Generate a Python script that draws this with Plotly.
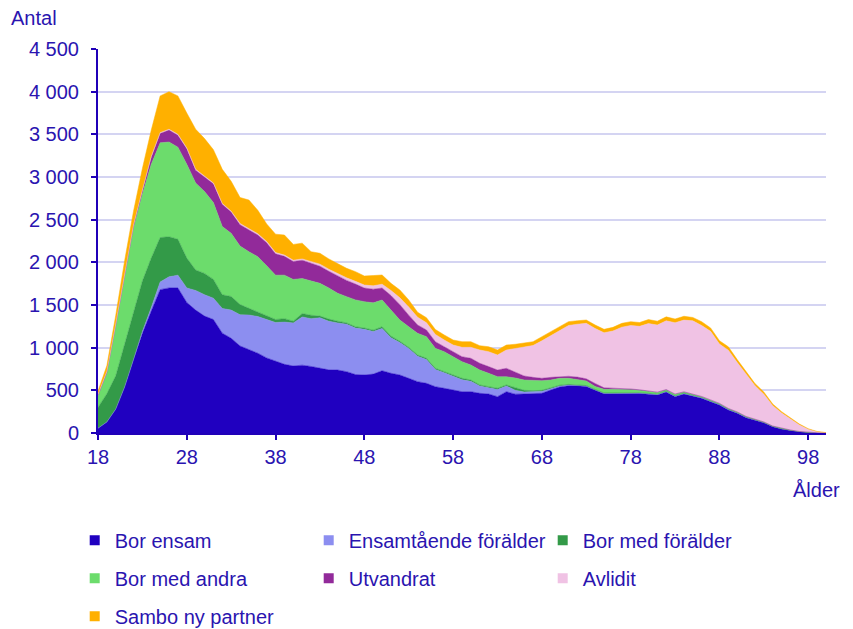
import plotly.graph_objects as go

ages = list(range(18, 101))

# values per age, 18..100 (10 per row)
bor_ensam = [
    55, 130, 280, 540, 860, 1170, 1430, 1680, 1700, 1700,
    1530, 1440, 1370, 1330, 1170, 1110, 1020, 975, 935, 880,
    845, 805, 785, 795, 780, 758, 740, 738, 719, 685,
    680, 690, 730, 700, 680, 641, 602, 582, 543, 524,
    504, 484, 484, 465, 457, 426, 484, 455, 457, 457,
    465, 504, 540, 555, 555, 545, 500, 460, 460, 462,
    462, 462, 455, 445, 480, 426, 457, 434, 406, 367,
    328, 270, 231, 180, 152, 121, 74, 47, 30, 15,
    5, 2, 0,
]
ensamstaende = [
    0, 0, 0, 0, 0, 20, 40, 90, 130, 150,
    170, 230, 250, 250, 290, 330, 365, 408, 430, 450,
    450, 495, 505, 565, 560, 592, 570, 552, 556, 545,
    535, 500, 495, 415, 380, 349, 298, 278, 202, 181,
    161, 141, 121, 85, 73, 84, 66, 45, 23, 28,
    25, 16, 10, 7, 5, 5, 5, 5, 6, 6,
    6, 6, 6, 6, 6, 6, 6, 6, 6, 6,
    6, 6, 5, 5, 4, 3, 3, 2, 2, 1,
    1, 0, 0,
]
bor_med_foralder = [
    245, 330, 390, 500, 550, 590, 580, 520, 470, 420,
    350, 240, 250, 220, 160, 160, 120, 77, 55, 40,
    35, 40, 20, 40, 40, 20, 25, 20, 15, 15,
    15, 15, 20, 20, 15, 13, 14, 15, 13, 14,
    15, 16, 16, 13, 13, 14, 13, 30, 20, 11,
    10, 10, 10, 8, 7, 6, 5, 5, 4, 4,
    4, 4, 4, 4, 4, 4, 4, 4, 4, 4,
    4, 4, 4, 3, 3, 2, 2, 2, 1, 1,
    0, 0, 0,
]
bor_med_andra = [
    130, 240, 580, 810, 990, 1020, 1100, 1110, 1110, 1080,
    1100, 1020, 960, 900, 800, 740, 685, 665, 646, 590,
    520, 510, 490, 410, 400, 384, 365, 327, 308, 315,
    309, 320, 314, 306, 249, 243, 254, 254, 234, 234,
    214, 195, 176, 175, 157, 136, 97, 115, 121, 117,
    113, 91, 81, 71, 62, 54, 35, 42, 42, 40,
    36, 28, 22, 20, 15, 18, 14, 12, 10, 9,
    8, 7, 6, 5, 4, 3, 2, 2, 1, 1,
    1, 1, 1,
]
utvandrat = [
    15, 15, 20, 25, 30, 40, 80, 110, 140, 140,
    180, 150, 170, 220, 260, 250, 250, 255, 254, 270,
    250, 220, 210, 215, 210, 200, 195, 200, 190, 185,
    160, 160, 140, 170, 180, 135, 98, 78, 78, 58,
    59, 58, 78, 79, 78, 78, 98, 65, 47, 39,
    28, 31, 21, 24, 26, 25, 35, 18, 13, 12,
    8, 6, 6, 4, 4, 3, 2, 3, 2, 2,
    1, 1, 1, 1, 1, 1, 1, 1, 1, 0,
    0, 0, 0,
]
avlidit = [
    5, 5, 5, 5, 5, 5, 10, 10, 10, 10,
    10, 10, 10, 10, 10, 10, 15, 15, 15, 15,
    15, 15, 15, 15, 20, 25, 25, 30, 30, 32,
    35, 40, 45, 60, 80, 95, 90, 85, 85, 79,
    78, 110, 129, 156, 175, 176, 215, 280, 337, 373,
    439, 488, 538, 595, 620, 650, 645, 645, 670, 716,
    744, 744, 789, 786, 806, 835, 840, 855, 831, 803,
    695, 682, 578, 496, 391, 325, 238, 179, 127, 77,
    36, 12, 3,
]
sambo = [
    40, 70, 105, 140, 165, 255, 310, 430, 440, 450,
    410, 470, 440, 390, 400, 350, 305, 335, 275, 205,
    215, 235, 185, 185, 115, 127, 120, 122, 112, 114,
    106, 120, 108, 83, 92, 84, 59, 59, 58, 59,
    59, 66, 66, 50, 58, 59, 58, 50, 46, 45,
    49, 47, 40, 45, 41, 39, 41, 40, 43, 45,
    45, 45, 47, 46, 46, 44, 45, 40, 45, 40,
    40, 40, 35, 30, 25, 25, 20, 17, 13, 10,
    7, 3, 1,
]

series = [
    ("Bor ensam", bor_ensam, "#2000c0", "legend"),
    ("Ensamtående förälder", ensamstaende, "#8c8ef0", "legend"),
    ("Bor med förälder", bor_med_foralder, "#339a48", "legend"),
    ("Bor med andra", bor_med_andra, "#6cdc6c", "legend2"),
    ("Utvandrat", utvandrat, "#922a9a", "legend2"),
    ("Avlidit", avlidit, "#f0c2e4", "legend2"),
    ("Sambo ny partner", sambo, "#ffb000", "legend3"),
]

TXT = "#2a14b0"
AX = "#2000b8"
FONT = "Liberation Sans, Arial, sans-serif"
FS = 20

fig = go.Figure()
for name, vals, color, leg in series:
    fig.add_trace(
        go.Scatter(
            x=ages,
            y=vals,
            name=name,
            stackgroup="one",
            mode="lines",
            line=dict(width=0.5, color=color),
            fillcolor=color,
            legendgroup=name,
            showlegend=False,
            hovertemplate=f"{name}<br>Ålder: %{{x}}<br>Antal: %{{y}}<extra></extra>",
        )
    )
    # square legend marker
    fig.add_trace(
        go.Scatter(
            x=[None],
            y=[None],
            mode="markers",
            marker=dict(symbol="square", size=10, color=color),
            name=name,
            legendgroup=name,
            legend=leg,
        )
    )

legend_base = dict(
    orientation="h",
    x=-0.032,
    xanchor="left",
    yanchor="middle",
    entrywidth=189,
    entrywidthmode="pixels",
    itemwidth=30,
    font=dict(family=FONT, size=FS, color=TXT),
    bgcolor="rgba(0,0,0,0)",
)

fig.update_layout(
    width=853,
    height=629,
    margin=dict(l=98, r=27, t=49, b=196, autoexpand=False),
    plot_bgcolor="white",
    paper_bgcolor="white",
    separators=", ",
    font=dict(family=FONT, size=FS, color=TXT),
    legend=dict(legend_base, y=-0.279),
    legend2=dict(legend_base, y=-0.378),
    legend3=dict(legend_base, y=-0.477),
    annotations=[
        dict(text="Antal", xref="paper", yref="paper", x=-0.122, y=1.08,
             xanchor="left", yanchor="middle", showarrow=False,
             font=dict(family=FONT, size=FS, color=TXT)),
        dict(text="Ålder", xref="paper", yref="paper", x=1.022, y=-0.148,
             xanchor="right", yanchor="middle", showarrow=False,
             font=dict(family=FONT, size=FS, color=TXT)),
    ],
)

fig.update_xaxes(
    range=[18, 100],
    tickvals=list(range(18, 99, 10)),
    showgrid=False,
    zeroline=False,
    showline=True,
    linecolor=AX,
    linewidth=2,
    ticks="outside",
    ticklen=5,
    tickwidth=2,
    tickcolor=AX,
    tickfont=dict(family=FONT, size=FS, color=TXT),
)
fig.update_yaxes(
    range=[0, 4500],
    dtick=500,
    tickformat=",d",
    showgrid=True,
    gridcolor="#d4d4f2",
    gridwidth=2,
    zeroline=False,
    showline=True,
    linecolor=AX,
    linewidth=2,
    ticks="outside",
    ticklen=5,
    tickwidth=2,
    tickcolor=AX,
    ticklabelstandoff=8,
    tickfont=dict(family=FONT, size=FS, color=TXT),
)

# drop the browser's default body margin so the figure sits at the page corner
fig.write_html(
    "out.html",
    config={"displayModeBar": False},
    post_script="document.body.style.margin='0';",
)
